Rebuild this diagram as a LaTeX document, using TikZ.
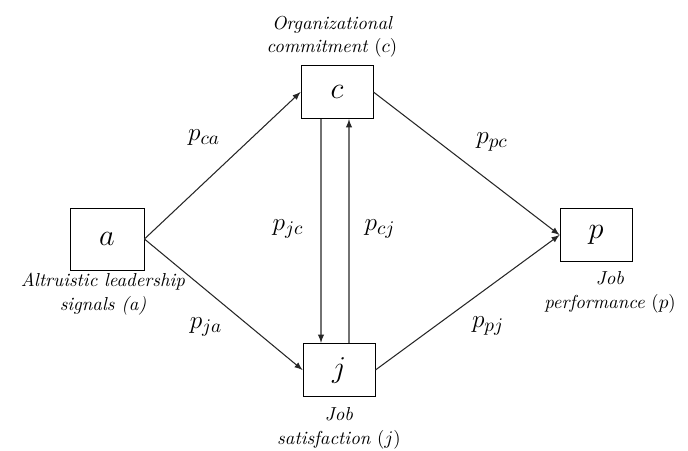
\documentclass[tikz,border=0pt]{standalone}
\usepackage{amsmath}
\usepackage{tikz}
\usetikzlibrary{arrows}

\begin{document}
\begin{tikzpicture}[x=0.02cm,y=-0.02cm,
  var/.style={draw,line width=0.5pt,minimum width=1.44cm,minimum height=1.07cm,font=\fontsize{17}{20}\selectfont},
  lbl/.style={align=center,inner sep=0pt,font=\itshape\fontsize{10.7}{13.6}\selectfont},
  coef/.style={font=\fontsize{15.5}{18}\selectfont},
  path/.style={-latex,line width=0.6pt,black!85}]
\useasboundingbox (0,0) rectangle (688,450);
% variables
\draw (107,239) node[var,minimum width=1.48cm,minimum height=1.24cm] (a) {$a$};
\draw (337,92) node[var] (c) {$c$};
\draw (339,370) node[var] (j) {$j$};
\draw (596,235) node[var] (p) {$p$};
% labels
\draw (103,273) node[lbl,anchor=north] (aLabel) {Altruistic leadership\\signals (a)};
\draw (332,58) node[lbl,anchor=south] (cLabel) {Organizational\\commitment {\upshape(}$c${\upshape)}};
\draw (339,407) node[lbl,anchor=north] (jLabel) {Job\\satisfaction {\upshape(}$j${\upshape)}};
\draw (610,271) node[lbl,anchor=north] (pLabel) {Job\\performance {\upshape(}$p${\upshape)}};
% coefficients
\draw (204,138) node[coef] (pca) {$p_{ca}$};
\draw (206,327) node[coef] (pja) {$p_{ja}$};
\draw (288,229) node[coef] (pjc) {$p_{jc}$};
\draw (380,229) node[coef] (pcj) {$p_{cj}$};
\draw (492,142) node[coef] (ppc) {$p_{pc}$};
\draw (488,326) node[coef] (ppj) {$p_{pj}$};

\draw[path] (a.east) -- (c.west);
\draw[path] (a.east) -- (j.west);
\draw[path] ([xshift=-0.32cm]c.south) -- ([xshift=-0.36cm]j.north);
\draw[path] ([xshift=0.2cm]j.north) -- ([xshift=0.24cm]c.south);
\draw[path] (c.east) -- (p.west);
\draw[path] (j.east) -- (p.west);
\end{tikzpicture}
\end{document}
